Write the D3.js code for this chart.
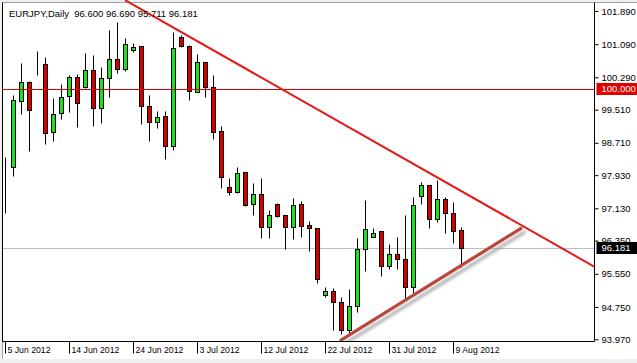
<!DOCTYPE html>
<html>
<head>
<meta charset="utf-8">
<script src="https://cdn.jsdelivr.net/npm/d3@7"></script>
<style>
body { margin: 0; background: #f0f0f0; }
svg { display: block; }
text { font-family: Tahoma, "Liberation Sans", Arial, sans-serif; font-size: 9.5px; fill: #000; }
.dates text { font-size: 8.7px; }
</style>
</head>
<body>
<svg width="637" height="363"></svg>
<script>

var symbol = "EURJPY,Daily";

// daily bars, MT4 style (sunday bars included)
var dates = [
  "2012-06-05","2012-06-06","2012-06-07","2012-06-08","2012-06-10","2012-06-11","2012-06-12","2012-06-13",
  "2012-06-14","2012-06-15","2012-06-17","2012-06-18","2012-06-19","2012-06-20","2012-06-21","2012-06-22",
  "2012-06-24","2012-06-25","2012-06-26","2012-06-27","2012-06-28","2012-06-29","2012-07-01","2012-07-02",
  "2012-07-03","2012-07-04","2012-07-05","2012-07-06","2012-07-08","2012-07-09","2012-07-10","2012-07-11",
  "2012-07-12","2012-07-13","2012-07-15","2012-07-16","2012-07-17","2012-07-18","2012-07-19","2012-07-20",
  "2012-07-22","2012-07-23","2012-07-24","2012-07-25","2012-07-26","2012-07-27","2012-07-29","2012-07-30",
  "2012-07-31","2012-08-01","2012-08-02","2012-08-03","2012-08-05","2012-08-06","2012-08-07","2012-08-08",
  "2012-08-09","2012-08-10"
];

var open = [
  98.140, 98.119, 99.711, 100.177, 100.635, 100.604, 98.963, 99.422, 99.832, 100.290,
  100.063, 100.459, 99.542, 100.266, 100.724, 100.483, 100.942, 101.038, 99.591, 99.207,
  99.357, 98.640, 101.255, 101.053, 99.943, 100.652, 100.063, 98.995, 97.636, 97.516,
  97.998, 97.226, 97.468, 96.671, 97.226, 96.961, 96.671, 97.226, 96.720, 96.647,
  95.045, 95.142, 94.877, 94.194, 94.780, 96.141, 96.430, 96.582, 95.745, 96.020,
  95.899, 95.238, 97.426, 97.685, 96.864, 97.347, 97.009, 96.600
];
var high = [
  98.367, 99.863, 100.642, 100.201, 100.925, 100.773, 99.784, 100.121, 100.346, 100.370,
  100.876, 100.828, 100.546, 101.431, 101.631, 101.231, 101.110, 101.050, 99.870, 99.477,
  99.484, 101.390, 101.311, 101.069, 100.845, 100.660, 100.346, 99.115, 97.854, 98.126,
  98.005, 97.733, 97.854, 97.089, 97.250, 96.975, 97.371, 97.306, 96.823, 96.650,
  95.238, 95.200, 94.997, 95.176, 96.406, 97.330, 96.650, 96.590, 96.269, 96.430,
  96.968, 97.410, 97.772, 97.690, 97.813, 97.410, 97.275, 96.690
];
var low = [
  97.016, 97.916, 99.405, 98.519, 100.346, 98.681, 98.761, 99.291, 99.460, 99.084,
  100.039, 99.123, 99.180, 99.822, 100.387, 100.449, 100.908, 99.164, 98.746, 99.060,
  98.312, 98.536, 101.014, 99.743, 99.936, 99.808, 98.794, 97.632, 97.451, 97.510,
  97.193, 96.980, 96.406, 96.421, 96.920, 96.141, 96.382, 96.445, 96.107, 95.320,
  94.983, 94.194, 94.097, 94.114, 94.621, 95.624, 96.430, 95.504, 95.666, 95.673,
  94.959, 95.079, 97.226, 96.662, 96.807, 96.541, 96.300, 95.711
];
var close = [
  98.140, 99.743, 100.177, 99.501, 100.645, 98.954, 99.412, 99.808, 100.290, 99.663,
  100.459, 99.542, 100.266, 100.724, 100.483, 101.094, 101.028, 99.598, 99.212, 99.344,
  98.640, 100.990, 101.053, 99.960, 100.652, 100.063, 98.963, 97.878, 97.535, 97.974,
  97.221, 97.468, 96.671, 96.961, 96.951, 96.671, 97.202, 96.710, 96.647, 95.424,
  95.142, 94.877, 94.194, 94.780, 96.141, 96.638, 96.541, 95.745, 96.020, 95.899,
  95.238, 97.202, 97.685, 96.864, 97.347, 97.009, 96.589, 96.181
];

var priceTicks = [101.89, 101.09, 100.29, 99.51, 98.71, 97.93, 97.13, 96.35, 95.55, 94.75, 93.97];
var dateTickEvery = 8;

var levelPrice = 100.0;
var bidPrice = 96.181;

// trend lines: [bar index, price]
var downTrendIdx = [15, 57], downTrendPrice = [102.153, 97.549];
var upTrendIdx = [42, 64.5], upTrendPrice = [93.95, 96.647];

var svg = d3.select("svg"),
    width = +svg.attr("width"),
    height = +svg.attr("height");

var plotL = 2.5, plotT = 2.5, plotR = 594.5, plotB = 341.5;

var parse = d3.timeParse("%Y-%m-%d"),
    fmtDate = d3.timeFormat("%-d %b %Y"),
    fmtPrice = d3.format(".3f");

var bars = dates.map(function(d, i) {
    return {i: i, date: parse(d), o: open[i], h: high[i], l: low[i], c: close[i]};
});

var x = d3.scaleLinear().domain([0, 57]).range([5, 461]);
var y = d3.scaleLinear().domain([93.97, 101.89]).range([339.3, 11]);

function px(v) { return Math.round(v) + 0.5; }

var defs = svg.append("defs");
defs.append("clipPath").attr("id", "plotclip")
    .append("rect").attr("x", 3).attr("y", 0).attr("width", plotR - 3).attr("height", plotB);
var shadow = defs.append("filter").attr("id", "shadow")
    .attr("x", "-20%").attr("y", "-20%").attr("width", "140%").attr("height", "140%");
shadow.append("feDropShadow").attr("dx", 3).attr("dy", 4).attr("stdDeviation", 1.8)
    .attr("flood-color", "#777").attr("flood-opacity", 0.6);

// window + plot area
svg.append("rect").attr("x", 0).attr("y", 0).attr("width", width).attr("height", height).attr("fill", "#f0f0f0");
svg.append("rect").attr("x", 2).attr("y", 2).attr("width", width - 2).attr("height", 357).attr("fill", "#fff");
svg.append("line").attr("x1", 2.5).attr("x2", 2.5).attr("y1", 2).attr("y2", 359).attr("stroke", "#a0a0a0");
svg.append("line").attr("x1", 2).attr("x2", width).attr("y1", 2.5).attr("y2", 2.5).attr("stroke", "#a0a0a0");

var plot = svg.append("g").attr("clip-path", "url(#plotclip)");

// bid line
plot.append("line")
    .attr("x1", plotL).attr("x2", plotR)
    .attr("y1", px(y(bidPrice))).attr("y2", px(y(bidPrice)))
    .attr("stroke", "#c0c0c0");

// candles
var candle = plot.append("g").selectAll("g")
    .data(bars)
    .enter().append("g");

candle.append("line")
    .attr("x1", function(d) { return Math.round(x(d.i)) + 0.5; })
    .attr("x2", function(d) { return Math.round(x(d.i)) + 0.5; })
    .attr("y1", function(d) { return px(y(d.h)); })
    .attr("y2", function(d) { return px(y(d.l)); })
    .attr("stroke", "#000");

candle.append("rect")
    .attr("x", function(d) { return Math.round(x(d.i)) - 1.5; })
    .attr("width", 4)
    .attr("y", function(d) { return px(y(Math.max(d.o, d.c))); })
    .attr("height", function(d) { return Math.round(y(Math.min(d.o, d.c))) - Math.round(y(Math.max(d.o, d.c))); })
    .attr("fill", function(d) { return d.c > d.o ? "#1ee01e" : (d.c < d.o ? "#d40000" : "#000"); })
    .attr("stroke", "#000");

// 100.000 level
plot.append("line")
    .attr("x1", plotL).attr("x2", plotR)
    .attr("y1", px(y(levelPrice))).attr("y2", px(y(levelPrice)))
    .attr("stroke", "#e00000");

// down trend (ray to the right)
var downT = d3.scaleLinear().domain(downTrendIdx).range(downTrendPrice);
plot.append("line")
    .attr("x1", x(downTrendIdx[0])).attr("y1", y(downTrendPrice[0]))
    .attr("x2", x(80)).attr("y2", y(downT(80)))
    .attr("stroke", "#e31a1a").attr("stroke-width", 2);

// up trend, drawn with a shadow
plot.append("line")
    .attr("x1", x(upTrendIdx[0])).attr("y1", y(upTrendPrice[0]))
    .attr("x2", x(upTrendIdx[1])).attr("y2", y(upTrendPrice[1]))
    .attr("stroke", "#b9473c").attr("stroke-width", 3.2)
    .attr("stroke-linecap", "round")
    .attr("filter", "url(#shadow)");

// frame
svg.append("path")
    .attr("d", "M" + plotL + "," + plotT + "V" + plotB + "H" + plotR + "V" + plotT)
    .attr("fill", "none").attr("stroke", "#000");

// price axis
var yAxis = d3.axisRight(y).tickValues(priceTicks).tickSize(4).tickPadding(3).tickFormat(fmtPrice);
var ya = svg.append("g").attr("transform", "translate(" + plotR + ",0)").call(yAxis);
ya.select(".domain").remove();
ya.selectAll("text").attr("font-family", null).attr("font-size", null);

// date axis
var xAxis = d3.axisBottom(x)
    .tickValues(d3.range(0, bars.length, dateTickEvery))
    .tickSize(12)
    .tickFormat(function(i) { return fmtDate(bars[i].date); });
var xa = svg.append("g").attr("class", "dates").attr("transform", "translate(0," + plotB + ")").call(xAxis);
xa.select(".domain").remove();
xa.selectAll("text").attr("font-family", null).attr("font-size", null)
    .attr("text-anchor", "start").attr("dx", 2).attr("y", 5).attr("dy", "0.71em");

// price labels
function priceBox(p, bg) {
    var g = svg.append("g").attr("transform", "translate(" + (plotR + 2) + "," + Math.round(y(p)) + ")");
    g.append("rect").attr("x", 0).attr("y", -6).attr("width", width - plotR - 2).attr("height", 12).attr("fill", bg);
    g.append("text").attr("x", 5).attr("y", 0).attr("dy", "0.34em").style("fill", "#fff").text(fmtPrice(p));
}
priceBox(levelPrice, "#e00000");
priceBox(bidPrice, "#000");

// header
var last = bars[bars.length - 1];
svg.append("text")
    .attr("x", 9).attr("y", 16.5)
    .style("white-space", "pre")
    .text(symbol + "  " + [last.o, last.h, last.l, last.c].map(fmtPrice).join(" "));

console.log("bars", bars.length);
</script>
</body>
</html>
